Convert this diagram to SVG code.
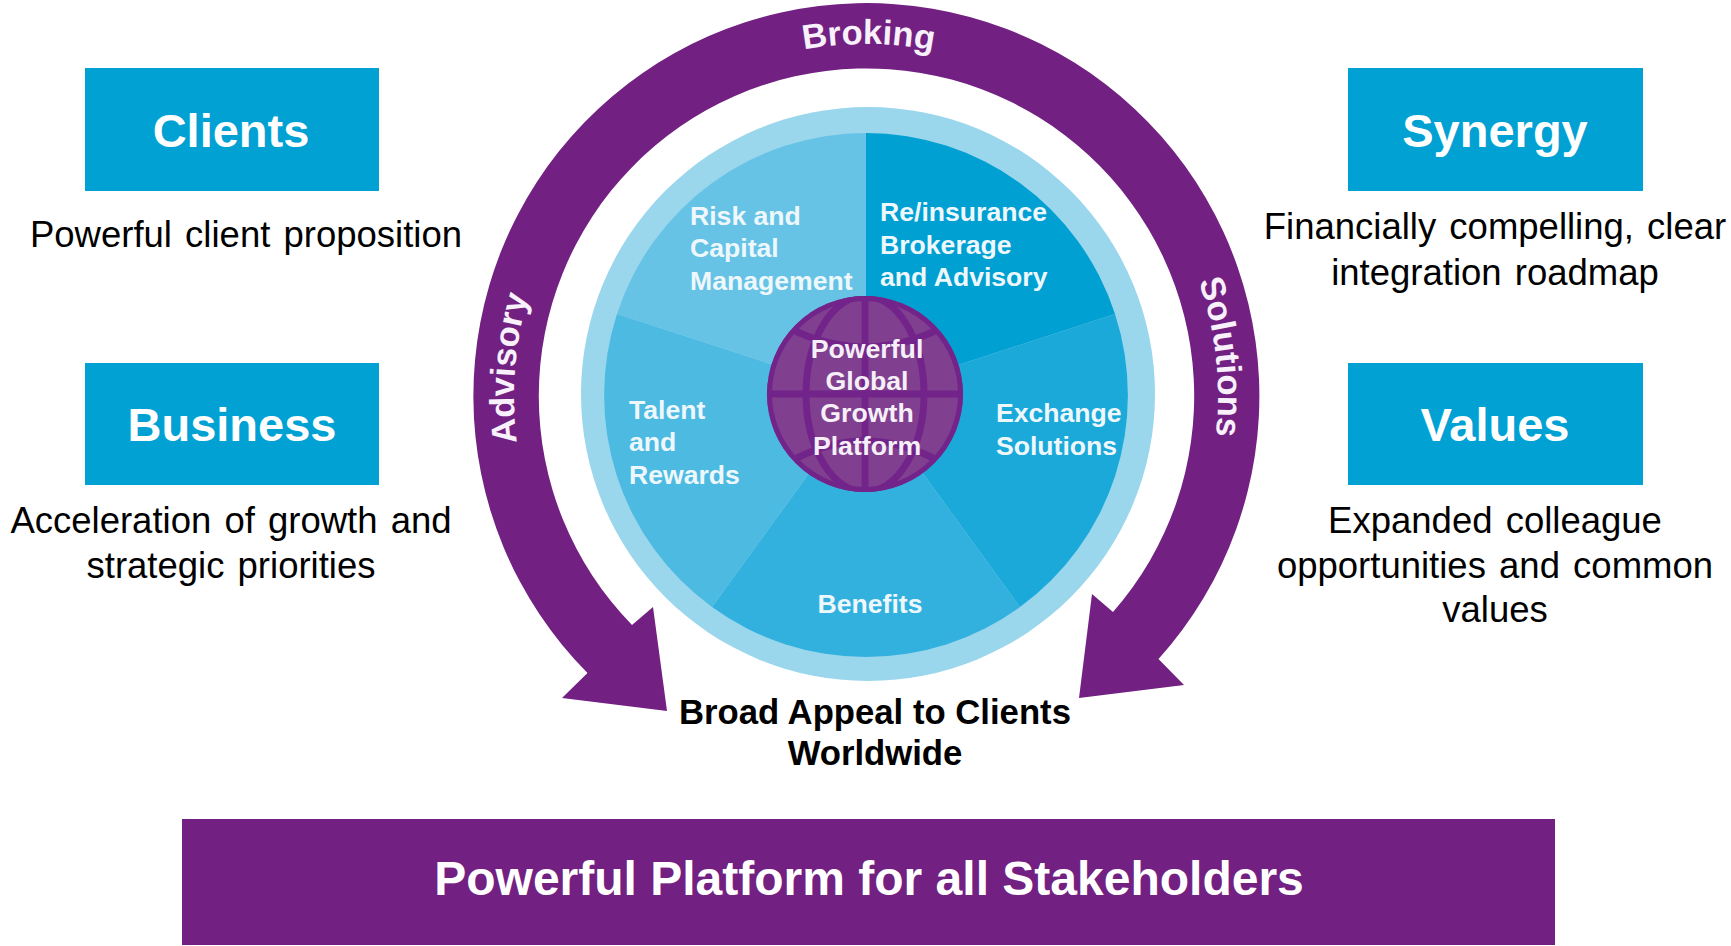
<svg xmlns="http://www.w3.org/2000/svg" width="1731" height="946" viewBox="0 0 1731 946">
<style>
text{font-family:"Liberation Sans",Arial,sans-serif}
.box{fill:#02A1D4}
.title{font-size:47px;font-weight:700;fill:#fff;text-anchor:middle}
.desc{font-size:36.5px;fill:#000;text-anchor:middle;word-spacing:3px}
.seg{font-size:26.6px;font-weight:700;fill:#EEF8FC}
.hub{font-size:26.7px;font-weight:700;fill:#F6EFF8;text-anchor:middle}
.arc{font-size:34.5px;font-weight:700;fill:#F8F0FA;text-anchor:middle}
.purple{fill:#722082}
</style>
<defs>
<path id="labelArc" d="M866,748 A352,352 0 1 1 866,44 A352,352 0 1 1 866,748"/>
<clipPath id="globeClip"><circle cx="865" cy="394" r="98"/></clipPath>
</defs>
<rect width="1731" height="946" fill="#fff"/>
<g id="connectors">
<path class="purple" d="M587.5,673 A393,393 0 1 1 1158.5,659 L1184,685 L1079,698 L1092,594 L1113,612 A327.7,327.7 0 1 0 632,625 L653,607 L667,711 L562,698 Z"/>
<text class="arc"><textPath href="#labelArc" startOffset="1108">Broking</textPath></text>
<text class="arc"><textPath href="#labelArc" startOffset="580">Advisory</textPath></text>
<text class="arc"><textPath href="#labelArc" startOffset="1619.5">Solutions</textPath></text>
</g>
<g id="wheel">
<circle cx="868" cy="394" r="287" fill="#9AD6EC"/>
<path d="M866,395 L866,133 A262,262 0 0 1 1115,314 Z" fill="#00A0D2"/>
<path d="M866,395 L1115,314 A262,262 0 0 1 1020,607 Z" fill="#1BA9DA"/>
<path d="M866,395 L1020,607 A262,262 0 0 1 712,607 Z" fill="#33B1DE"/>
<path d="M866,395 L712,607 A262,262 0 0 1 617,314 Z" fill="#4DBAE2"/>
<path d="M866,395 L617,314 A262,262 0 0 1 866,133 Z" fill="#66C3E6"/>
</g>
<g id="seg-risk"><text class="seg" x="690" y="224.500">Risk and</text><text class="seg" x="690" y="257">Capital</text><text class="seg" x="690" y="289.500">Management</text></g>
<g id="seg-reinsurance"><text class="seg" x="880" y="220.500">Re/insurance</text><text class="seg" x="880" y="253.500">Brokerage</text><text class="seg" x="880" y="285.500">and Advisory</text></g>
<g id="seg-talent"><text class="seg" x="629" y="419">Talent</text><text class="seg" x="629" y="451">and</text><text class="seg" x="629" y="483.500">Rewards</text></g>
<g id="seg-exchange"><text class="seg" x="996" y="422">Exchange</text><text class="seg" x="996" y="455">Solutions</text></g>
<g id="seg-benefits"><text class="seg" x="870" y="612.500" text-anchor="middle">Benefits</text></g>
<g id="hub">
<circle cx="865" cy="394" r="98" fill="#80408F"/>
<g clip-path="url(#globeClip)" fill="none" stroke="#72248A" stroke-width="7">
<path d="M865,296 V492 M767,394 H963"/>
<ellipse cx="865" cy="394" rx="59" ry="98"/>
<path d="M793,330 Q865,364 937,330"/>
<path d="M797,458 Q865,424 933,458"/>
<circle cx="865" cy="394" r="96" stroke-width="6"/>
</g>
<text class="hub" x="867" y="358">Powerful</text>
<text class="hub" x="867" y="390">Global</text>
<text class="hub" x="867" y="422">Growth</text>
<text class="hub" x="867" y="455">Platform</text>
</g>
<g id="clients"><rect class="box" x="85" y="68" width="294" height="123"/><text class="title" x="231" y="147">Clients</text><text class="desc" x="246" y="247">Powerful client proposition</text></g>
<g id="business"><rect class="box" x="85" y="363" width="294" height="122"/><text class="title" x="232" y="441">Business</text><text class="desc" x="231" y="533">Acceleration of growth and</text><text class="desc" x="231" y="578">strategic priorities</text></g>
<g id="synergy"><rect class="box" x="1348" y="68" width="295" height="123"/><text class="title" x="1495" y="147">Synergy</text><text class="desc" x="1495" y="239">Financially compelling, clear</text><text class="desc" x="1495" y="285">integration roadmap</text></g>
<g id="values"><rect class="box" x="1348" y="363" width="295" height="122"/><text class="title" x="1495" y="441">Values</text><text class="desc" x="1495" y="533">Expanded colleague</text><text class="desc" x="1495" y="578">opportunities and common</text><text class="desc" x="1495" y="622">values</text></g>
<g id="appeal"><text x="875" y="724" font-size="34.7" font-weight="700" text-anchor="middle" fill="#000">Broad Appeal to Clients</text><text x="875" y="765" font-size="34.7" font-weight="700" text-anchor="middle" fill="#000">Worldwide</text></g>
<g id="platform"><rect class="purple" x="182" y="819" width="1373" height="126"/><text x="869" y="895" font-size="48" font-weight="700" text-anchor="middle" fill="#fff">Powerful Platform for all Stakeholders</text></g>
</svg>
